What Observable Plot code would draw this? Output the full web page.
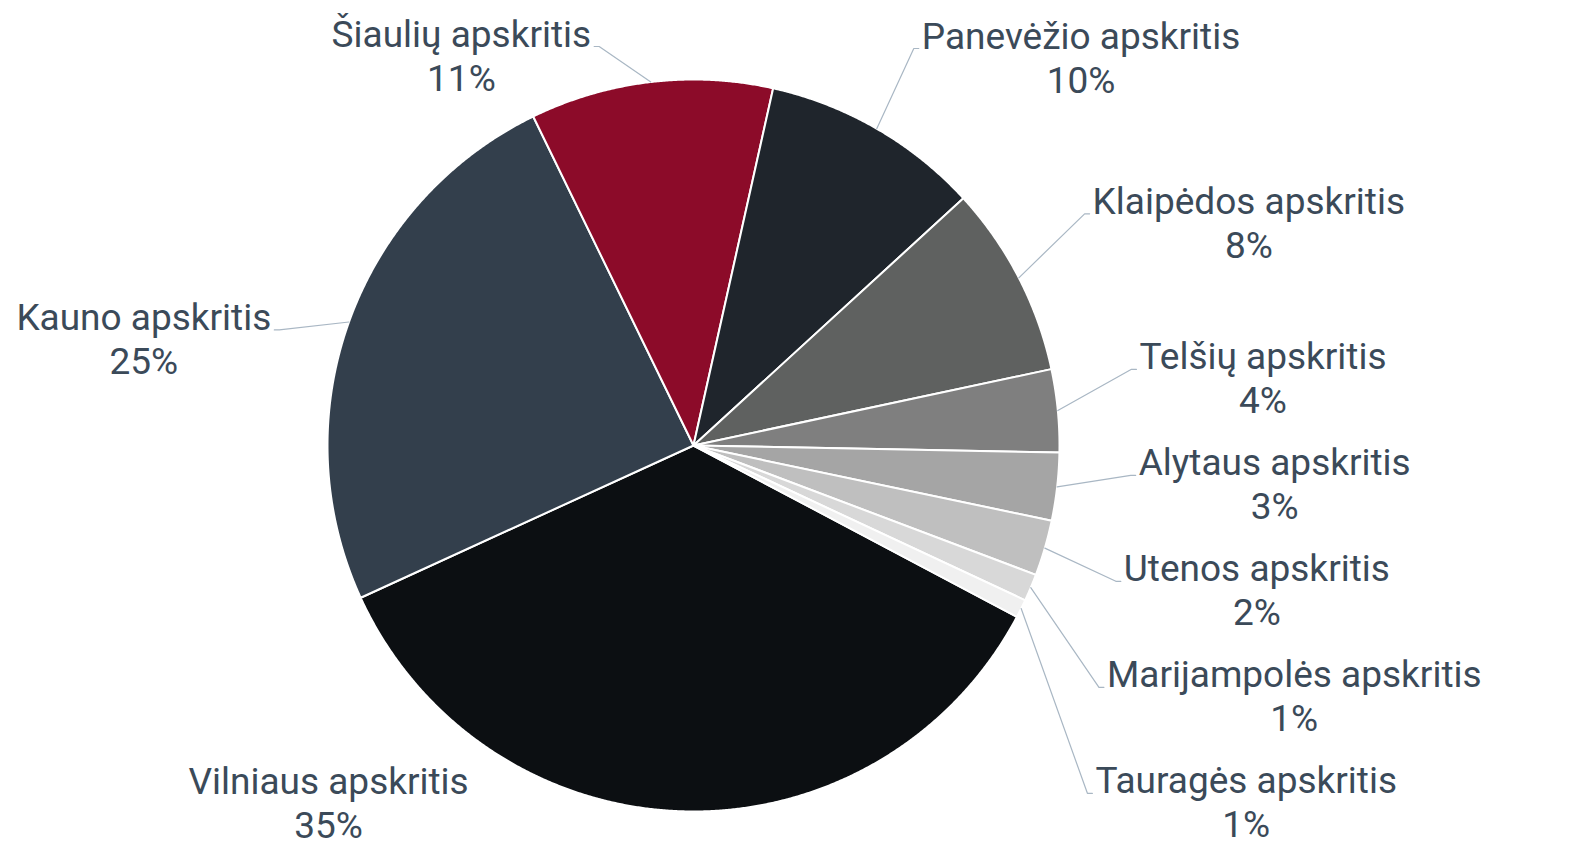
<!DOCTYPE html>
<html>
<head>
<meta charset="utf-8">
<script src="https://cdn.jsdelivr.net/npm/d3@7"></script>
<script src="https://cdn.jsdelivr.net/npm/@observablehq/plot@0.6"></script>
<style>
  html, body { margin: 0; padding: 0; background: #ffffff; }
  #chart svg { display: block; }
</style>
</head>
<body>
<div id="chart"></div>
<script>
// ---- data ----
const regions = [
  "Vilniaus apskritis", "Kauno apskritis", "Šiaulių apskritis", "Panevėžio apskritis",
  "Klaipėdos apskritis", "Telšių apskritis", "Alytaus apskritis", "Utenos apskritis",
  "Marijampolės apskritis", "Tauragės apskritis"
];
const shares = [35.4, 24.6, 10.7, 9.7, 8.45, 3.65, 2.99, 2.45, 1.2, 0.8];
const colors = [
  "#0c0f12", "#333f4c", "#8c0b29", "#1f252c", "#5f6160",
  "#7f7f7f", "#a5a5a5", "#bfbfbf", "#d8d8d8", "#f0f0f0"
];

// ---- layout settings ----
const W = 1575, H = 849;
const cx = 693, cy = 445, R = 366;          // pie centre and radius (px)
const startDeg = 117.9;                      // first slice starts here (clockwise from 12 o'clock)
const FONT = 37, LINE = 44;
const TEXT_COLOR = "#3b4a59", LINK_COLOR = "#a9b7c4";
const RL = 440, ROT = -4.5, Rc = 410, GAP = 106, yTop = 46, yBot = 793, TICK = 5, PAD = 8;

async function draw() {
  try { await document.fonts.load(`${FONT}px Roboto`); } catch (e) {}
  const ctx = document.createElement("canvas").getContext("2d");
  ctx.font = `${FONT}px Roboto`;
  const measure = (s) => ctx.measureText(s).width;

  const data = regions.map((name, i) => ({name, share: shares[i], color: colors[i]}));
  const a0 = startDeg * Math.PI / 180;
  const arcs = d3.pie().sort(null).value(d => d.share).startAngle(a0).endAngle(a0 + 2 * Math.PI)(data);
  const total = d3.sum(shares);

  // unit space: pie radius = 1, centre = (0,0), y up
  const ux = px => (px - cx) / R;
  const uy = py => (cy - py) / R;

  // slice polygons
  const sliceMarks = arcs.map(a => {
    const pts = [{x: 0, y: 0}];
    const n = Math.max(2, Math.ceil((a.endAngle - a.startAngle) / 0.004));
    for (let k = 0; k <= n; k++) {
      const t = a.startAngle + (a.endAngle - a.startAngle) * k / n;
      pts.push({x: Math.sin(t), y: Math.cos(t)});
    }
    return Plot.line(pts, {x: "x", y: "y", fill: a.data.color, stroke: "#ffffff", strokeWidth: 2, curve: "linear-closed", strokeLinejoin: "round"});
  });

  // label layout (px)
  const rot = ROT * Math.PI / 180;
  const labels = arcs.map(a => {
    const m = (a.startAngle + a.endAngle) / 2;
    const s = Math.sin(m), c = Math.cos(m);
    const c2 = Math.cos(m + rot);
    return {
      name: a.data.name,
      pct: Math.round(a.data.share / total * 100) + "%",
      s, c, side: s >= 0 ? 1 : -1,
      y0: cy - RL * c2
    };
  });
  for (const side of [1, -1]) {
    const g = labels.filter(l => l.side === side).sort((p, q) => p.y0 - q.y0);
    g.forEach((l, i) => {
      l.y = Math.min(Math.max(l.y0, yTop), yBot);
      if (i > 0) l.y = Math.max(l.y, g[i - 1].y + GAP);
    });
    if (g.length && g[g.length - 1].y > yBot) {
      g[g.length - 1].y = yBot;
      for (let i = g.length - 2; i >= 0; i--) g[i].y = Math.min(g[i].y, g[i + 1].y - GAP);
    }
  }
  labels.forEach(l => {
    const dy = l.y - cy;
    const off = Math.max(RL * Math.abs(l.s), Math.sqrt(Math.max(0, Rc * Rc - dy * dy)));
    l.x = cx + l.side * off;
    l.ex = cx + R * l.s; l.ey = cy - R * l.c;
    const w1 = measure(l.name);
    l.tx = l.x + l.side * PAD;
    l.px = l.x + l.side * (PAD + w1 / 2);
    // connector shown only when it leaves the pie outward (not running along its rim)
    const vx = l.x - l.ex, vy = l.y - l.ey, vl = Math.hypot(vx, vy);
    const cosang = (vx * l.s + vy * (-l.c)) / vl;
    l.link = cosang > Math.cos(75 * Math.PI / 180);
  });

  const linkPts = [];
  labels.filter(l => l.link).forEach(l => {
    linkPts.push({name: l.name, x: ux(l.ex), y: uy(l.ey)});
    linkPts.push({name: l.name, x: ux(l.x), y: uy(l.y)});
    linkPts.push({name: l.name, x: ux(l.x + l.side * TICK), y: uy(l.y)});
  });

  const textOpts = {fontSize: FONT, fontFamily: "Roboto", fill: TEXT_COLOR, lineAnchor: "bottom"};

  const chart = Plot.plot({
    width: W,
    height: H,
    margin: 0,
    x: {domain: [ux(0), ux(W)], range: [0, W], axis: null},
    y: {domain: [uy(H), uy(0)], range: [H, 0], axis: null},
    style: {background: "#ffffff", fontFamily: "Roboto"},
    marks: [
      ...sliceMarks,
      Plot.line(linkPts, {x: "x", y: "y", z: "name", stroke: LINK_COLOR, strokeWidth: 1.2}),
      Plot.text(labels.filter(l => l.side > 0), {x: l => ux(l.tx), y: l => uy(l.y), text: "name", textAnchor: "start", ...textOpts}),
      Plot.text(labels.filter(l => l.side < 0), {x: l => ux(l.tx), y: l => uy(l.y), text: "name", textAnchor: "end", ...textOpts}),
      Plot.text(labels, {x: l => ux(l.px), y: l => uy(l.y + LINE), text: "pct", textAnchor: "middle", ...textOpts})
    ]
  });
  document.getElementById("chart").appendChild(chart);
}
draw();
</script>
</body>
</html>
